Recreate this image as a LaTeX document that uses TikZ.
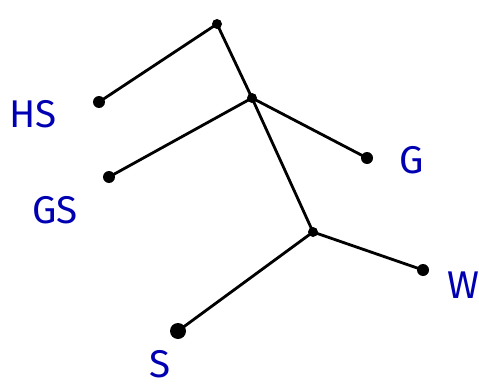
\documentclass[tikz,border=0pt]{standalone}
\usepackage{fontspec}
\setsansfont{Fira Sans}
\usetikzlibrary{positioning}

\begin{document}
\begin{tikzpicture}[
    x=0.02cm, y=-0.02cm,
    leaf/.style={circle, fill=black, inner sep=0pt, minimum size=0.24cm},
    joint/.style={circle, fill=black, inner sep=0pt, minimum size=0.2cm},
    tag/.style={text=blue!70!black, font=\sffamily\fontsize{22}{22}\selectfont},
    branch/.style={line width=1.6pt, line cap=round}
]
    \useasboundingbox (0,0) rectangle (479,385);

    % Inner joints
    \node[joint] (top) at (217, 24) {};
    \node[joint] (mid) at (252, 98) {};
    \node[joint] (low) at (313, 232) {};

    % Leaves
    \node[leaf] (hs) at (99, 102) {};
    \node[leaf] (gs) at (109, 177) {};
    \node[leaf] (g) at (367, 158) {};
    \node[leaf] (w) at (423, 270) {};
    \node[leaf, minimum size=0.32cm] (s) at (178, 331) {};

    % Labels
    \node[tag] (hslabel) at (33, 114) {HS};
    \node[tag] (gslabel) at (55, 210) {GS};
    \node[tag] (glabel) at (412, 160) {G};
    \node[tag] (wlabel) at (463, 285) {W};
    \node[tag] (slabel) at (160, 364) {S};

    % Branches
    \draw[branch] (top.center) -- (hs.center);
    \draw[branch] (top.center) -- (mid.center);
    \draw[branch] (mid.center) -- (gs.center);
    \draw[branch] (mid.center) -- (g.center);
    \draw[branch] (mid.center) -- (low.center);
    \draw[branch] (low.center) -- (w.center);
    \draw[branch] (low.center) -- (s.center);

\end{tikzpicture}
\end{document}
